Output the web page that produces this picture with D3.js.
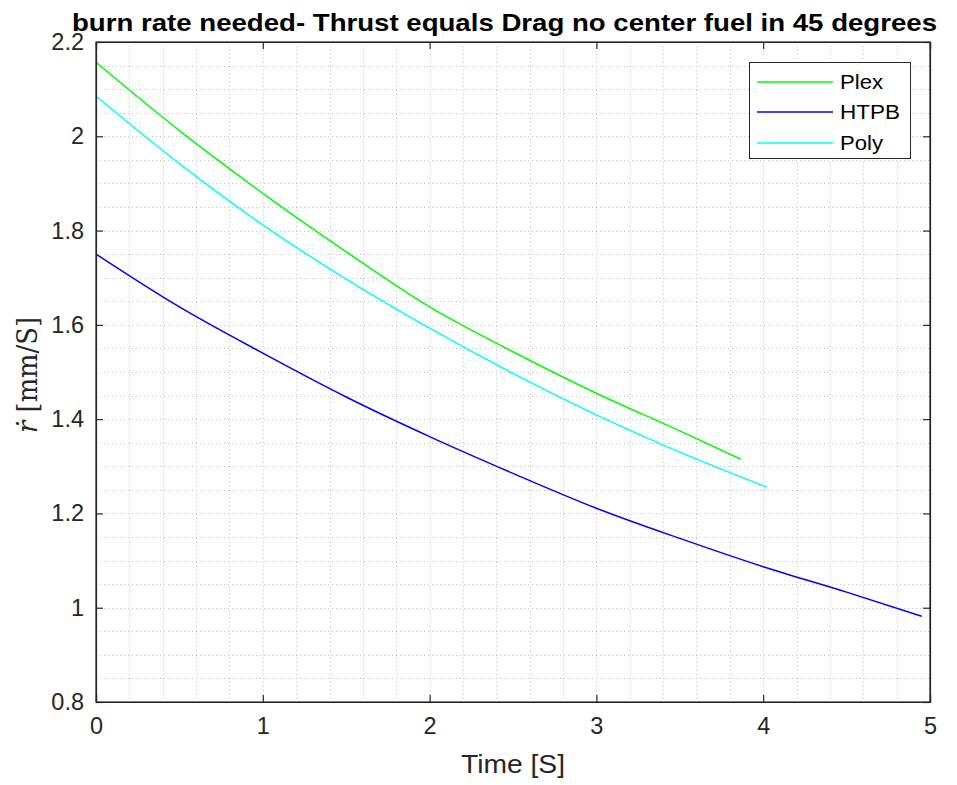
<!DOCTYPE html>
<html><head><meta charset="utf-8">
<script src="https://cdn.jsdelivr.net/npm/d3@7"></script>
<style>body{margin:0;background:#fff;}svg{display:block;}</style>
</head><body>
<script>
const titleText = "burn rate needed- Thrust equals Drag no center fuel in 45 degrees";
const xLabelText = "Time [S]";
const xTicks = [0, 1, 2, 3, 4, 5];
const yTicks = [0.8, 1, 1.2, 1.4, 1.6, 1.8, 2, 2.2];
const seriesNames = ["Plex", "HTPB", "Poly"];
const seriesColors = ["#00ff00", "#0000ff", "#00ffff"];
const plexT = [0, 0.5, 1, 1.5, 2, 2.5, 3, 3.5, 3.865];
const plexR = [2.157, 2.012, 1.879, 1.755, 1.638, 1.543, 1.455, 1.375, 1.315];
const htpbT = [0, 0.5, 1, 1.5, 2, 2.5, 3, 3.5, 4, 4.5, 4.95];
const htpbR = [1.750, 1.638, 1.540, 1.447, 1.363, 1.285, 1.211, 1.147, 1.087, 1.033, 0.982];
const polyT = [0, 0.5, 1, 1.5, 2, 2.5, 3, 3.5, 4.02];
const polyR = [2.085, 1.942, 1.812, 1.697, 1.593, 1.497, 1.409, 1.330, 1.256];

const W = 957, H = 785;
const L = 96, R = 930, T = 42, B = 702;
const svg = d3.select("body").append("svg").attr("width", W).attr("height", H);
const x = d3.scaleLinear().domain([0, 5]).range([L, R]);
const y = d3.scaleLinear().domain([0.8, 2.2]).range([B, T]);
const ink = "#262626";

// minor/major grid (dotted)
const gx = d3.range(0, 5.0001, 0.2).filter(v => v > 0.001 && v < 4.999);
const gy = d3.range(0.8, 2.2001, 0.05).filter(v => v > 0.801 && v < 2.199);
const grid = svg.append("g").attr("stroke", "#c4c4c4").attr("stroke-width", 1).attr("stroke-dasharray", "1,3");
grid.selectAll(".gx").data(gx).enter().append("line")
  .attr("x1", d => Math.round(x(d)) + 0.5).attr("x2", d => Math.round(x(d)) + 0.5).attr("y1", T).attr("y2", B);
grid.selectAll(".gy").data(gy).enter().append("line")
  .attr("y1", d => Math.round(y(d)) + 0.5).attr("y2", d => Math.round(y(d)) + 0.5).attr("x1", L).attr("x2", R);

// series
const allSeries = [
  plexT.map((t, i) => [t, plexR[i]]),
  htpbT.map((t, i) => [t, htpbR[i]]),
  polyT.map((t, i) => [t, polyR[i]])
];
const line = d3.line().x(d => x(d[0])).y(d => y(d[1])).curve(d3.curveMonotoneX);
allSeries.forEach((s, i) => {
  svg.append("path").datum(s).attr("d", line).attr("fill", "none")
    .attr("stroke", seriesColors[i]).attr("stroke-width", 1.5);
});

// axes
const fontSans = "'Liberation Sans', Arial, Helvetica, sans-serif";
const axB = svg.append("g").attr("transform", `translate(0,${B})`)
  .call(d3.axisBottom(x).tickValues(xTicks).tickSize(-7).tickPadding(15).tickFormat(d3.format("d")));
const axT = svg.append("g").attr("transform", `translate(0,${T})`)
  .call(d3.axisTop(x).tickValues(xTicks).tickSize(-7).tickFormat(""));
const axL = svg.append("g").attr("transform", `translate(${L},0)`)
  .call(d3.axisLeft(y).tickValues(yTicks).tickSize(-7).tickPadding(12).tickFormat(d => d3.format("")(+d.toFixed(1))));
const axR = svg.append("g").attr("transform", `translate(${R},0)`)
  .call(d3.axisRight(y).tickValues(yTicks).tickSize(-7).tickFormat(""));
[axB, axT, axL, axR].forEach(a => {
  a.select(".domain").attr("stroke", ink).attr("stroke-width", 1.2);
  a.selectAll(".tick line").attr("stroke", ink).attr("stroke-width", 1.2);
  a.selectAll("text").attr("fill", ink).style("font-family", fontSans).style("font-size", "23.5px");
});
axB.selectAll("text").attr("dy", "0.71em");

// box
svg.append("rect").attr("x", L).attr("y", T).attr("width", R - L).attr("height", B - T)
  .attr("fill", "none").attr("stroke", ink).attr("stroke-width", 1.2);

// title
svg.append("text").attr("x", 504.5).attr("y", 31).attr("text-anchor", "middle")
  .style("font-family", fontSans).style("font-weight", "bold").style("font-size", "24px")
  .attr("textLength", 865).attr("lengthAdjust", "spacingAndGlyphs")
  .attr("fill", "#000").text(titleText);

// x label
svg.append("text").attr("x", (L + R) / 2).attr("y", 773).attr("text-anchor", "middle")
  .style("font-family", fontSans).style("font-size", "25px")
  .attr("textLength", 104).attr("lengthAdjust", "spacingAndGlyphs")
  .attr("fill", ink).text(xLabelText);

// y label (LaTeX style)
const yl = svg.append("text").attr("transform", `translate(37,375) rotate(-90)`)
  .attr("text-anchor", "middle").style("font-family", "'DejaVu Serif', 'Liberation Serif', serif")
  .style("font-size", "27px").attr("textLength", 116).attr("lengthAdjust", "spacingAndGlyphs")
  .attr("fill", ink);
yl.append("tspan").style("font-style", "italic").text("\u1E59");
yl.append("tspan").text(" [mm/S]");

// legend
const lg = svg.append("g");
lg.append("rect").attr("x", 749.5).attr("y", 62.5).attr("width", 161).attr("height", 96)
  .attr("fill", "#fff").attr("stroke", ink).attr("stroke-width", 1);
const rowsY = [82, 112, 143];
const legendW = [43, 60, 43];
seriesNames.forEach((n, i) => {
  lg.append("line").attr("x1", 757).attr("x2", 833).attr("y1", rowsY[i]).attr("y2", rowsY[i])
    .attr("stroke", seriesColors[i]).attr("stroke-width", 1.5);
  lg.append("text").attr("x", 840).attr("y", rowsY[i]).attr("dy", "0.36em")
    .style("font-family", fontSans).style("font-size", "20px")
    .attr("textLength", legendW[i]).attr("lengthAdjust", "spacingAndGlyphs")
    .attr("fill", "#000").text(n);
});
</script>
</body></html>
